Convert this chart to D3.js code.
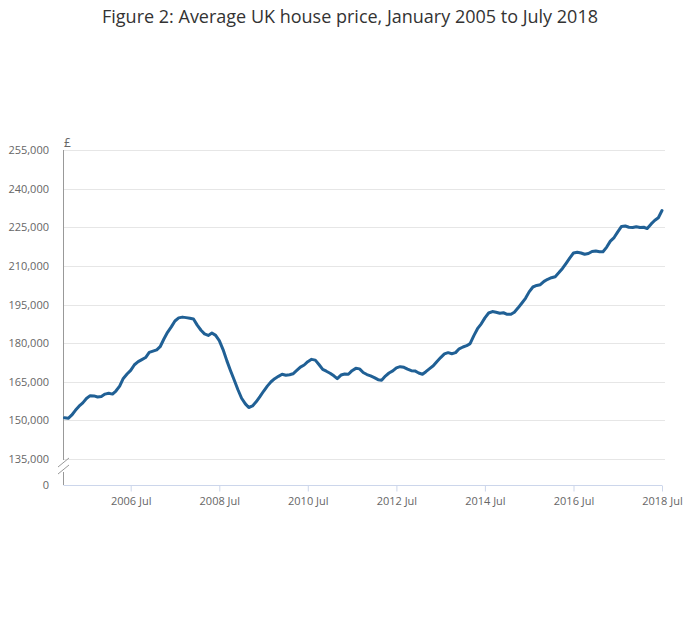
<!DOCTYPE html>
<html>
<head>
<meta charset="utf-8">
<script src="https://cdn.jsdelivr.net/npm/d3@7"></script>
<style>
  html, body { margin: 0; padding: 0; background: #fff; }
  svg { display: block; font-family: "Open Sans", sans-serif; }
</style>
</head>
<body>
<svg id="chart" width="700" height="635"></svg>
<script>
// ---- data ----
const startYear = 2005, startMonth = 0; // January 2005
const prices = [
  151000,150800,152000,153900,155500,156800,158500,159600,159500,159100,159300,160200,
  160500,160200,161400,163300,166300,168000,169400,171600,172800,173600,174400,176400,
  176900,177400,178600,181600,184200,186300,188600,189800,190100,189900,189650,189400,
  187000,185000,183600,183000,183900,183000,181000,177500,173200,169400,165700,162000,
  158600,156400,155000,155600,157200,159200,161300,163300,165000,166200,167100,167900,
  167500,167700,168100,169400,170700,171500,172800,173700,173400,171700,169800,169100,
  168300,167300,166200,167600,168000,167900,169300,170200,170000,168600,167800,167300,
  166600,165800,165600,167200,168400,169200,170400,170850,170600,169900,169300,169200,
  168400,167900,168900,170100,171200,172900,174400,175800,176300,175900,176300,177800,
  178500,179000,179800,182900,185600,187500,189800,191700,192250,192000,191600,191800,
  191200,191200,192000,193700,195500,197400,199900,201800,202400,202700,204000,204800,
  205400,205800,207300,209000,211000,213100,215000,215300,215000,214500,214800,215600,
  215800,215500,215500,217300,219600,221000,223200,225300,225500,225000,224900,225200,
  224900,225000,224500,226200,227600,228700,231500
];
const yTicks = [0, 135000, 150000, 165000, 180000, 195000, 210000, 225000, 240000, 255000];
const xTickLabels = ["2006 Jul","2008 Jul","2010 Jul","2012 Jul","2014 Jul","2016 Jul","2018 Jul"];
const title = "Figure 2: Average UK house price, January 2005 to July 2018";
const unitLabel = "£";

// ---- build ----
const data = prices.map((v, i) => ({ date: new Date(startYear, startMonth + i, 1), value: v }));
const xTickDates = xTickLabels.map(s => d3.timeParse("%Y %b")(s));

const svg = d3.select("#chart");
const left = 63.5, right = 662;

const x = d3.scaleTime()
  .domain([data[0].date, data[data.length - 1].date])
  .range([64.5, 662]);

// broken axis: 0 -> 135,000 compressed
const y = d3.scaleLinear()
  .domain([0, 135000, 255000])
  .range([485, 459, 150]);

// title
svg.append("text")
  .attr("x", 350).attr("y", 23)
  .attr("text-anchor", "middle")
  .attr("font-size", 18)
  .attr("fill", "#333")
  .text(title);

// gridlines
svg.append("g")
  .selectAll("line")
  .data(yTicks.filter(d => d > 0))
  .join("line")
  .attr("x1", left).attr("x2", 665)
  .attr("y1", d => Math.round(y(d)) + 0.5)
  .attr("y2", d => Math.round(y(d)) + 0.5)
  .attr("stroke", "#e6e6e6")
  .attr("stroke-width", 1);

// y axis labels
const yAxis = d3.axisLeft(y)
  .tickValues(yTicks)
  .tickSize(0)
  .tickPadding(0)
  .tickFormat(d3.format(","));
const gy = svg.append("g")
  .attr("transform", "translate(49,0)")
  .call(yAxis);
gy.select(".domain").remove();
gy.selectAll("text")
  .attr("font-family", "'Open Sans', sans-serif")
  .attr("font-size", 11)
  .attr("fill", "#666");

// y axis line with break
const axisColor = "#999";
svg.append("line")
  .attr("x1", left).attr("x2", left)
  .attr("y1", y(255000)).attr("y2", y(135000) + 1)
  .attr("stroke", axisColor).attr("stroke-width", 1);
svg.append("line")
  .attr("x1", left).attr("x2", left)
  .attr("y1", 472).attr("y2", y(0))
  .attr("stroke", axisColor).attr("stroke-width", 1);
// break slashes
[[58, 467, 69, 458], [58, 474, 69, 465]].forEach(s => {
  svg.append("line")
    .attr("x1", s[0]).attr("y1", s[1]).attr("x2", s[2]).attr("y2", s[3])
    .attr("stroke", axisColor).attr("stroke-width", 1);
});

// unit label
svg.append("text")
  .attr("x", 64).attr("y", 147)
  .attr("font-size", 12)
  .attr("fill", "#666")
  .text(unitLabel);

// x axis
const xAxis = d3.axisBottom(x)
  .tickValues(xTickDates)
  .tickSize(6)
  .tickPadding(6)
  .tickFormat(d3.timeFormat("%Y %b"));
const gx = svg.append("g")
  .attr("transform", `translate(0,${y(0) + 0.5})`)
  .call(xAxis);
gx.select(".domain")
  .attr("d", `M${left},0H${right}`)
  .attr("stroke", "#ccd6eb");
gx.selectAll(".tick line").attr("stroke", "#ccd6eb");
gx.selectAll("text")
  .attr("font-family", "'Open Sans', sans-serif")
  .attr("font-size", 11)
  .attr("fill", "#666");

// line
const line = d3.line()
  .x(d => x(d.date))
  .y(d => y(d.value));
svg.append("path")
  .datum(data)
  .attr("d", line)
  .attr("fill", "none")
  .attr("stroke", "#206095")
  .attr("stroke-width", 3)
  .attr("stroke-linejoin", "round")
  .attr("stroke-linecap", "round");
</script>
</body>
</html>
